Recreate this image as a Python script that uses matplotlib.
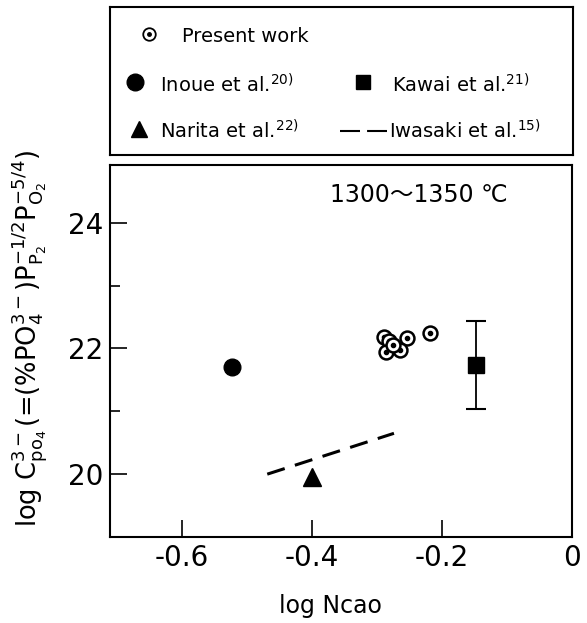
import matplotlib

matplotlib.use("Agg")
import matplotlib.pyplot as plt

# data
present_x = [-0.289, -0.281, -0.254, -0.286, -0.265, -0.275, -0.218]
present_y = [22.18, 22.12, 22.16, 21.94, 21.98, 22.05, 22.24]
inoue_x, inoue_y = [-0.523], [21.70]
kawai_x, kawai_y = [-0.148], [21.73]
kawai_lo, kawai_hi = [21.03], [22.43]
narita_x, narita_y = [-0.40], [19.95]
iwasaki_x = [-0.469, -0.274]
iwasaki_y = [20.00, 20.65]

xticks = [-0.6, -0.4, -0.2, 0]
xtick_labels = ["-0.6", "-0.4", "-0.2", "0"]
yticks = [20, 22, 24]

W, H = 587, 623
fig = plt.figure(figsize=(W / 100, H / 100), dpi=100)
plt.rcParams["font.family"] = ["DejaVu Sans"]
plt.rcParams["mathtext.fontset"] = "dejavusans"


def fig_box(x0, y0, x1, y1):
    return [x0 / W, 1 - y1 / H, (x1 - x0) / W, (y1 - y0) / H]


ax = fig.add_axes(fig_box(110, 165, 572, 537))
for s in ax.spines.values():
    s.set_linewidth(1.5)

ax.plot(iwasaki_x, iwasaki_y, color="black", lw=2.2, dashes=(6, 3.5))
ax.plot(inoue_x, inoue_y, "o", color="black", ms=12)
ax.plot(narita_x, narita_y, "^", color="black", ms=13)
ax.errorbar(kawai_x, kawai_y,
            yerr=[[k - lo for k, lo in zip(kawai_y, kawai_lo)],
                  [hi - k for k, hi in zip(kawai_y, kawai_hi)]],
            fmt="s", color="black", ms=11, capsize=7, elinewidth=1.3, capthick=1.5)
for px, py in zip(present_x, present_y):
    ax.plot(px, py, "o", mfc="white", mec="black", mew=1.8, ms=10)
    ax.plot(px, py, "o", color="black", ms=3)

ax.set_xlim(-0.711, 0)
ax.set_ylim(19.0, 24.92)
ax.set_xticks(xticks)
ax.set_xticklabels(xtick_labels)
ax.set_yticks(yticks)
ax.set_yticks([21, 23], minor=True)
ax.tick_params(axis="both", which="major", direction="in", length=12, width=1.2,
               labelsize=20, pad=5)
ax.tick_params(axis="y", which="minor", direction="in", length=7, width=1.2)
ax.text(0.476, 0.919, "1300～1350 ℃", transform=ax.transAxes, fontsize=17,
        ha="left", va="center", family=["DejaVu Sans", "Noto Sans CJK JP"])

fig.text(330 / W, 1 - 606 / H, "log Ncao", fontsize=17, ha="center", va="center")
fig.text(30 / W, 1 - 338 / H,
         r"log C$_{\mathrm{po}_4}^{3-}$(=(%PO$_4^{3-}$)P$_{\mathrm{P}_2}^{-1/2}$P$_{\mathrm{O}_2}^{-5/4}$)",
         fontsize=18.5, rotation=90, ha="center", va="center")

# legend box, laid out in pixel units
lg = fig.add_axes(fig_box(110, 7, 573, 155))
lg.set_xlim(110, 573)
lg.set_ylim(155, 7)
lg.set_xticks([])
lg.set_yticks([])
for s in lg.spines.values():
    s.set_linewidth(1.5)

lg.plot(149, 34, "o", mfc="white", mec="black", mew=1.3, ms=9)
lg.plot(149, 34, "o", color="black", ms=2.5)
lg.text(182, 36, "Present work", fontsize=14, va="center")
lg.plot(135, 82, "o", color="black", ms=12)
lg.text(160, 85, r"Inoue et al.$^{\mathrm{20)}}$", fontsize=14, va="center")
lg.plot(363, 82, "s", color="black", ms=10)
lg.text(392, 85, r"Kawai et al.$^{\mathrm{21)}}$", fontsize=14, va="center")
lg.plot(139, 129, "^", color="black", ms=12)
lg.text(160, 131, r"Narita et al.$^{\mathrm{22)}}$", fontsize=14, va="center")
lg.plot([340, 387], [131, 131], color="black", lw=1.5, dashes=(9.6, 3.4))
lg.text(389, 131, r"Iwasaki et al.$^{\mathrm{15)}}$", fontsize=14, va="center")

fig.savefig("out.png", dpi=100)
